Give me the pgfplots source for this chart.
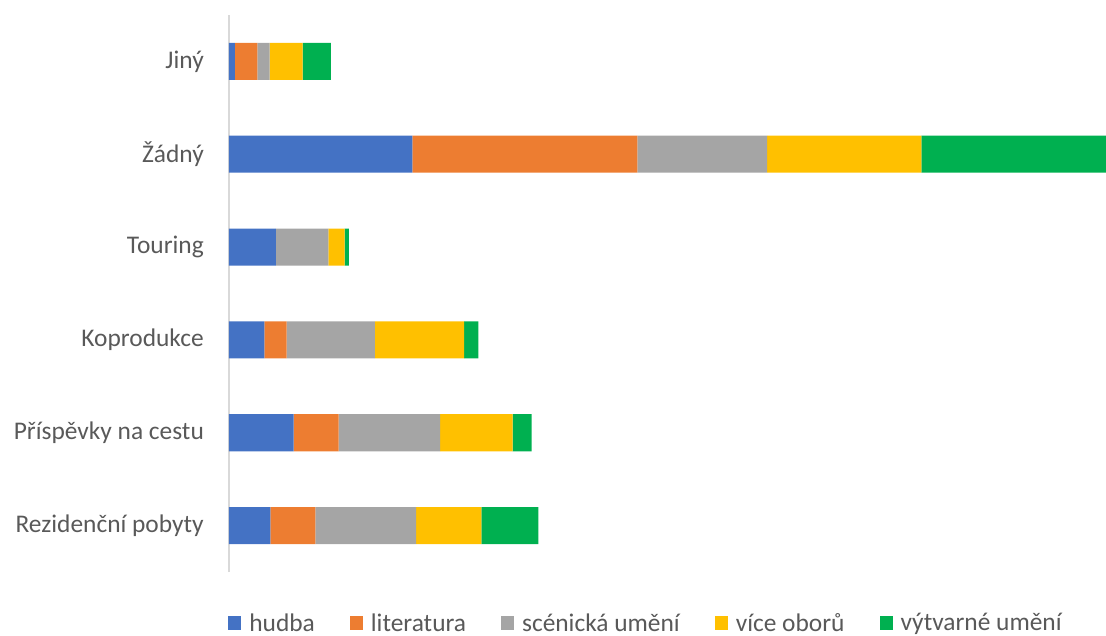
\documentclass[border=0pt]{standalone}
\usepackage{pgfplots}
\pgfplotsset{compat=1.18}
\usepackage{fontspec}
\setmainfont{Carlito}
\definecolor{txt}{HTML}{595959}
\definecolor{c1}{HTML}{4472C4}
\definecolor{c2}{HTML}{ED7D31}
\definecolor{c3}{HTML}{A5A5A5}
\definecolor{c4}{HTML}{FFC000}
\definecolor{c5}{HTML}{00B050}
\definecolor{axl}{HTML}{D9D9D9}
\begin{document}
\begin{tikzpicture}
\begin{axis}[
  at={(0,0)}, anchor=south west,
  scale only axis, width=877bp, height=557bp,
  xbar stacked, bar width=37bp,
  xmin=0, xmax=877, ymin=-0.5, ymax=5.5,
  hide x axis,
  axis y line*=left,
  y axis line style={draw=axl, line width=1.2bp},
  ytick={0,...,5},
  yticklabels={Rezidenční pobyty,Příspěvky na cestu,Koprodukce,Touring,Žádný,Jiný},
  major tick length=0pt,
  yticklabel style={font=\fontsize{25.5}{30}\selectfont, text=txt, inner sep=0pt, xshift=-25bp},
  legend columns=5,
  legend style={draw=none, font=\fontsize{25.5}{30}\selectfont, text=txt,
    at={(axis description cs:0.4755,0)}, anchor=center, yshift=-51bp,
    /tikz/every odd column/.append style={column sep=6bp},
    /tikz/every even column/.append style={column sep=33bp},
    inner sep=0pt},
  legend image code/.code={\fill[#1] (0bp,-7bp) rectangle (13bp,7bp);},
  every axis plot/.append style={draw=none},
  clip=true,
]
\addplot[fill=c1] coordinates {(41.3,0) (64.7,1) (35.3,2) (47,3) (183.3,4) (6,5)};
\addplot[fill=c2] coordinates {(45,0) (45,1) (22.4,2) (0,3) (225,4) (22.3,5)};
\addplot[fill=c3] coordinates {(100.7,0) (101.3,1) (88.3,2) (52.3,3) (129.7,4) (12.4,5)};
\addplot[fill=c4] coordinates {(65.3,0) (72.7,1) (89,2) (16.4,3) (154.3,4) (33,5)};
\addplot[fill=c5] coordinates {(57,0) (19,1) (14.3,2) (4.3,3) (200,4) (28.3,5)};
\legend{hudba,literatura,scénická umění,více oborů,výtvarné umění}
\end{axis}
\pgfresetboundingbox
\useasboundingbox (-229bp,-64bp) rectangle (877bp,572bp);
\end{tikzpicture}
\end{document}
